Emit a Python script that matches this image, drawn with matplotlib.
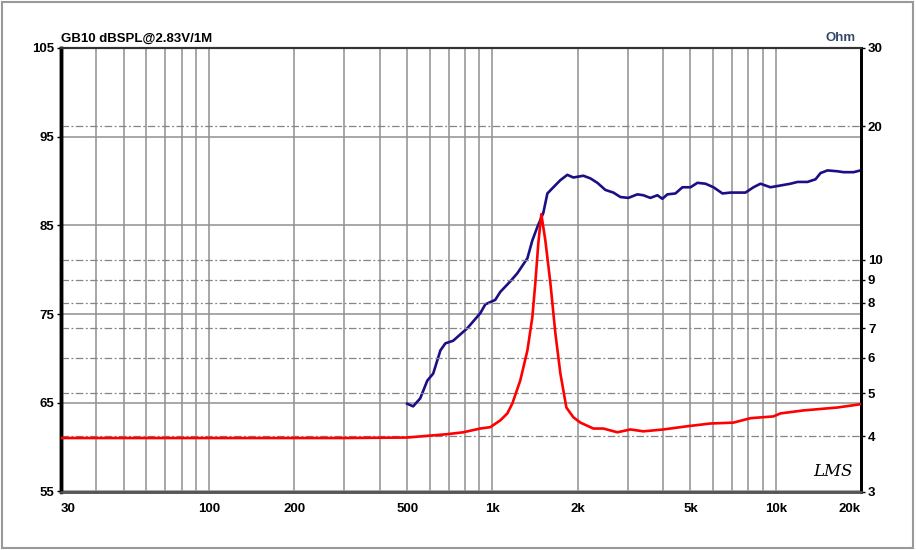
import numpy as np
import matplotlib
matplotlib.use("Agg")
from matplotlib import pyplot as plt
from matplotlib.ticker import FixedLocator, LogLocator, NullFormatter, NullLocator
from matplotlib.patches import Rectangle

# SPL curve (dB)
spl_freq = [500, 525, 556, 589, 618, 655, 682, 727, 815, 906, 944, 1023, 1066,
            1157, 1224, 1329, 1383, 1440, 1512, 1563, 1641, 1737, 1838, 1931,
            2094, 2217, 2347, 2504, 2673, 2830, 3019, 3248, 3411, 3610, 3822,
            3981, 4146, 4425, 4686, 5001, 5293, 5648, 6030, 6487, 6922, 7327,
            7822, 8347, 8835, 9581, 10395, 11273, 11941, 12949, 13821, 14394,
            15238, 16527, 17355, 18826, 19930]
spl_db = [64.9, 64.6, 65.5, 67.5, 68.3, 70.9, 71.7, 72.0, 73.4, 75.1, 76.1,
          76.6, 77.5, 78.7, 79.6, 81.3, 83.3, 84.8, 86.4, 88.6, 89.3, 90.1,
          90.7, 90.4, 90.6, 90.3, 89.8, 89.0, 88.7, 88.2, 88.1, 88.5, 88.4,
          88.1, 88.4, 88.0, 88.5, 88.6, 89.3, 89.3, 89.8, 89.7, 89.3, 88.6,
          88.7, 88.7, 88.7, 89.3, 89.7, 89.3, 89.5, 89.7, 89.9, 89.9, 90.2,
          90.9, 91.2, 91.1, 91.0, 91.0, 91.2]

# impedance curve (Ohm)
imp_freq = [28, 100, 300, 500, 693, 789, 906, 983, 1066, 1129, 1176, 1254,
            1329, 1383, 1417, 1452, 1488, 1537, 1602, 1668, 1737, 1824, 1931,
            2044, 2271, 2463, 2761, 3070, 3411, 4013, 4878, 5885, 7093, 8146,
            9818, 10395, 12535, 16527, 19930]
imp_ohm = [3.96, 3.96, 3.96, 3.97, 4.04, 4.08, 4.16, 4.19, 4.34, 4.50, 4.74,
           5.34, 6.24, 7.41, 8.85, 10.88, 12.66, 11.06, 8.85, 6.82, 5.54, 4.64,
           4.41, 4.29, 4.16, 4.16, 4.08, 4.14, 4.10, 4.14, 4.21, 4.27, 4.29,
           4.39, 4.43, 4.50, 4.57, 4.64, 4.72]

x_ticks = [30, 100, 200, 500, 1000, 2000, 5000, 10000, 20000]
x_labels = ["30", "100", "200", "500", "1k", "2k", "5k", "10k", "20k"]
db_ticks = [55, 65, 75, 85, 95, 105]
ohm_ticks = [3, 4, 5, 6, 7, 8, 9, 10, 20, 30]

plt.rcParams["font.family"] = ["Liberation Sans", "DejaVu Sans"]
fs = 9.5

fig = plt.figure(figsize=(9.16, 5.5), dpi=100)
fig.patch.set_facecolor("white")
fig.patches.append(Rectangle((1.5 / 916, 2.5 / 550), 911 / 916, 545.5 / 550,
                             transform=fig.transFigure, fill=False,
                             edgecolor="#999999", linewidth=1.5))

ax = fig.add_axes([61 / 916, 1 - 491.5 / 550, 800 / 916, 443.5 / 550])
ax.set_xscale("log")
ax.set_xlim(30, 20000)
ax.set_ylim(55, 105)

# grid
ax.xaxis.set_major_locator(FixedLocator(x_ticks))
ax.xaxis.set_minor_locator(LogLocator(base=10, subs=np.arange(1, 10)))
ax.xaxis.set_minor_formatter(NullFormatter())
ax.set_xticklabels([])
ax.set_yticks(db_ticks)
ax.grid(which="both", axis="x", color="#8f8f8f", linewidth=1.1)
ax.grid(which="major", axis="y", color="#8f8f8f", linewidth=1.1)
ax.tick_params(axis="x", which="both", length=0)
ax.tick_params(axis="y", length=3, width=1, labelsize=fs, pad=2)
for lbl in ax.get_yticklabels():
    lbl.set_fontweight("bold")

# x labels by hand so the edge ones stay inside
for f, lab in zip(x_ticks, x_labels):
    ha = "center"
    if f == x_ticks[0]:
        ha = "left"
    elif f == x_ticks[-1]:
        ha = "right"
    ax.text(f, -0.025, lab, transform=ax.get_xaxis_transform(), ha=ha, va="top",
            fontsize=fs, fontweight="bold")

ax.plot(spl_freq, spl_db, color="#1b0e86", linewidth=1.9, zorder=3)

# impedance axis
ax2 = ax.twinx()
ax2.set_yscale("log")
ax2.set_ylim(3, 30)
ax2.yaxis.set_major_locator(FixedLocator(ohm_ticks))
ax2.yaxis.set_minor_locator(NullLocator())
ax2.set_yticklabels([str(t) for t in ohm_ticks])
ax2.tick_params(axis="y", length=3, width=1, labelsize=fs, pad=2)
for lbl in ax2.get_yticklabels():
    lbl.set_fontweight("bold")
for t in ohm_ticks[1:-1]:
    ax2.axhline(t, color="#858585", linewidth=0.9, dashes=(6, 2, 1.5, 2), zorder=1)
ax2.plot(imp_freq, imp_ohm, color="#ff0000", linewidth=1.9, zorder=3)

# spines
for a in (ax, ax2):
    a.spines["left"].set_linewidth(2.5)
    a.spines["left"].set_color("black")
    a.spines["right"].set_linewidth(2)
    a.spines["right"].set_color("black")
    a.spines["top"].set_linewidth(1.5)
    a.spines["top"].set_color("#333333")
    a.spines["bottom"].set_linewidth(1.8)
    a.spines["bottom"].set_color("#555555")

ax.text(0, 1.008, "GB10 dBSPL@2.83V/1M", transform=ax.transAxes, ha="left",
        va="bottom", fontsize=fs, fontweight="bold")
ax.text(0.993, 1.008, "Ohm", transform=ax.transAxes, ha="right", va="bottom",
        fontsize=fs, fontweight="bold", color="#34486a")
ax.text(0.965, 0.045, "LMS", transform=ax.transAxes, ha="center", va="center",
        fontsize=12, fontstyle="italic", family="DejaVu Serif", color="black")

fig.savefig("out.png", dpi=100)
